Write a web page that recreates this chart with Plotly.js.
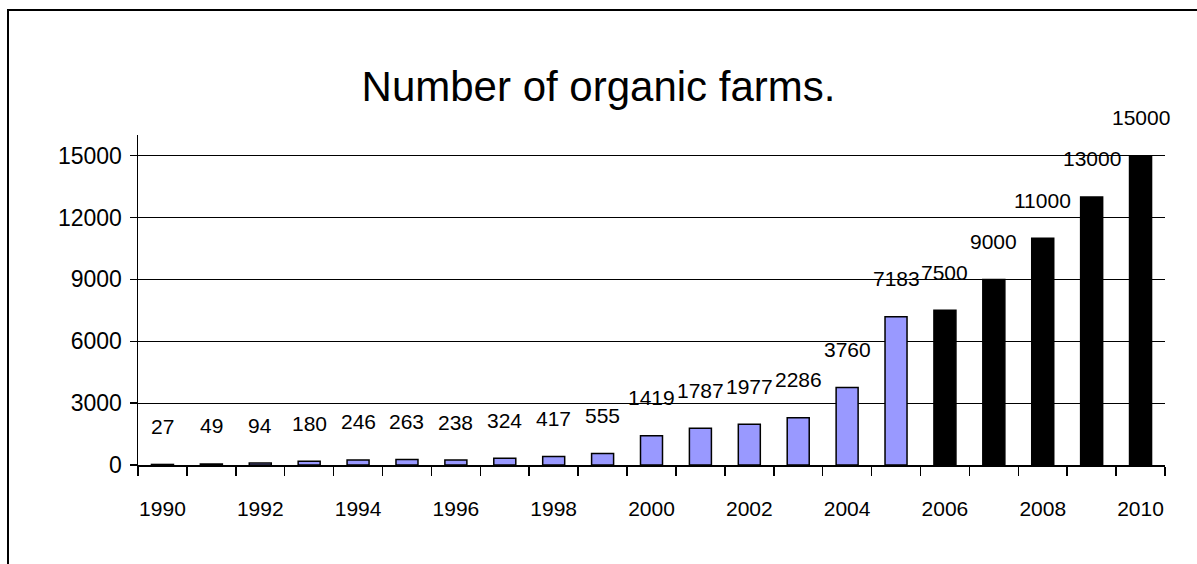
<!DOCTYPE html>
<html>
<head>
<meta charset="utf-8">
<script src="https://cdn.plot.ly/plotly-3.0.1.min.js"></script>
<style>
  html, body { margin: 0; padding: 0; background: #fff; }
  #chart { position: absolute; left: 0; top: 0; width: 1197px; height: 564px; }
  #frame { position: absolute; left: 7px; top: 9px; width: 1190px; height: 555px;
           border-top: 2px solid #000; border-left: 2px solid #000; pointer-events: none; }
</style>
</head>
<body>
<div id="chart"></div>
<div id="frame"></div>
<script>
const years = [1990,1991,1992,1993,1994,1995,1996,1997,1998,1999,2000,2001,2002,2003,2004,2005,2006,2007,2008,2009,2010];
const farms = [27,49,94,180,246,263,238,324,417,555,1419,1787,1977,2286,3760,7183,7500,9000,11000,13000,15000];
const forecastFrom = 2006;
const xTickLabels = [1990,1992,1994,1996,1998,2000,2002,2004,2006,2008,2010];
const yTicks = [0,3000,6000,9000,12000,15000];

const sans = '"Liberation Sans", Arial, sans-serif';

const colors = years.map(y => y >= forecastFrom ? '#000000' : '#9999FF');

const trace = {
  type: 'bar',
  x: years,
  y: farms,
  width: 0.45,
  marker: { color: colors, line: { color: '#000000', width: 1.5 } },
  hoverinfo: 'x+y'
};

const annotations = years.map((yr, i) => ({
  x: yr, y: farms[i], xref: 'x', yref: 'y',
  text: String(farms[i]), showarrow: false,
  yshift: 38, yanchor: 'middle', xanchor: 'center',
  font: { family: sans, size: 21, color: '#000' }
}));

const layout = {
  width: 1197, height: 564,
  margin: { l: 138, r: 32, t: 135, b: 99 },
  paper_bgcolor: '#fff', plot_bgcolor: '#fff',
  showlegend: false,
  title: {
    text: 'Number of organic farms.',
    font: { family: sans, size: 42, color: '#000' },
    x: 0.5, xanchor: 'center', xref: 'container',
    y: 1 - 86/564, yanchor: 'middle', yref: 'container'
  },
  xaxis: {
    type: 'linear',
    range: [1989.5, 2010.5],
    tickmode: 'array', tickvals: xTickLabels, ticktext: xTickLabels.map(String),
    ticks: '', showgrid: false, zeroline: false,
    showline: true, linecolor: '#000', linewidth: 1.5,
    ticklabelstandoff: 24,
    tickfont: { family: sans, size: 21, color: '#000' },
    minor: { tick0: 1989.5, dtick: 1, ticks: 'outside', ticklen: 9, tickcolor: '#000', tickwidth: 1.5, showgrid: false },
    fixedrange: true
  },
  yaxis: {
    range: [0, 16000],
    tickmode: 'array', tickvals: yTicks, ticktext: yTicks.map(String),
    ticks: 'outside', ticklen: 7, tickcolor: '#000', tickwidth: 1.5,
    showgrid: true, gridcolor: '#000', gridwidth: 1.2,
    zeroline: false,
    showline: true, linecolor: '#000', linewidth: 1.5,
    tickfont: { family: sans, size: 23, color: '#000' },
    ticklabelstandoff: 3,
    fixedrange: true
  },
  annotations: annotations
};

Plotly.newPlot('chart', [trace], layout, { displayModeBar: false, staticPlot: true });
</script>
</body>
</html>
